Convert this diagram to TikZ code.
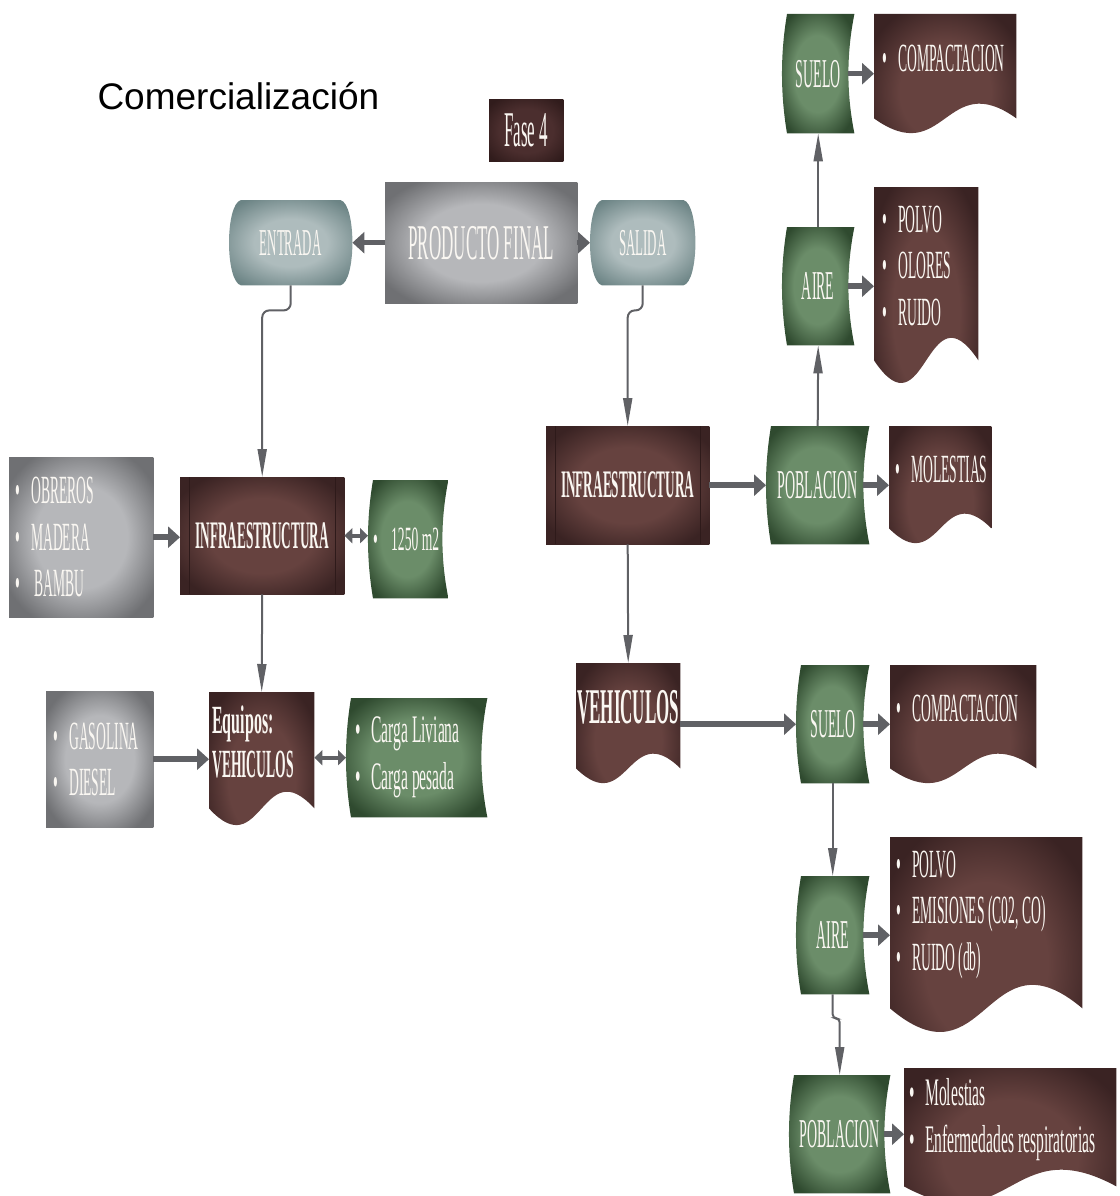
\documentclass[tikz,border=0pt]{standalone}
\usepackage{fontspec}
\setmainfont{Liberation Serif}
\newfontfamily\cond[FakeStretch=0.34]{Liberation Serif}
\newfontfamily\condm[FakeStretch=0.40]{Liberation Serif}
\newfontfamily\titlefont{Liberation Sans}
\usetikzlibrary{arrows.meta,calc}

\definecolor{brownin}{HTML}{66423F}
\definecolor{brownout}{HTML}{3A2323}
\definecolor{brownline}{HTML}{2E1A1A}
\definecolor{greenin}{HTML}{6B8D69}
\definecolor{greenout}{HTML}{2F4A2F}
\definecolor{grayin}{HTML}{B6B7BA}
\definecolor{grayout}{HTML}{6F7073}
\definecolor{tealin}{HTML}{AEBCBD}
\definecolor{tealout}{HTML}{6C8485}
\definecolor{fasein}{HTML}{4B2E2E}
\definecolor{faseout}{HTML}{311C1C}
\definecolor{arrowgray}{HTML}{606165}
\definecolor{txtwhite}{HTML}{FAF7F2}

\pgfdeclareradialshading{brownglow}{\pgfpoint{0bp}{0bp}}{color(0bp)=(brownin); color(16bp)=(brownin); color(30bp)=(brownout); color(50bp)=(brownout)}
\pgfdeclareradialshading{greenglow}{\pgfpoint{0bp}{0bp}}{color(0bp)=(greenin); color(16bp)=(greenin); color(30bp)=(greenout); color(50bp)=(greenout)}
\pgfdeclareradialshading{grayglow}{\pgfpoint{0bp}{0bp}}{color(0bp)=(grayin); color(16bp)=(grayin); color(30bp)=(grayout); color(50bp)=(grayout)}
\pgfdeclareradialshading{tealglow}{\pgfpoint{0bp}{0bp}}{color(0bp)=(tealin); color(14bp)=(tealin); color(30bp)=(tealout); color(50bp)=(tealout)}
\pgfdeclareradialshading{faseglow}{\pgfpoint{0bp}{0bp}}{color(0bp)=(fasein); color(18bp)=(fasein); color(32bp)=(faseout); color(50bp)=(faseout)}

\pgfdeclarelayer{bg}
\pgfsetlayers{bg,main}

% shapes drawn behind the nodes, from their anchors
\newcommand{\boxshape}[2]{\shade[shading=#2] (#1.north west) rectangle (#1.south east);}
\newcommand{\subshape}[2]{\boxshape{#1}{#2}
  \draw[line width=1pt, brownline] ([xshift=9pt]#1.north west) -- ([xshift=9pt]#1.south west)
    ([xshift=-9pt]#1.north east) -- ([xshift=-9pt]#1.south east);}
\newcommand{\docshape}[3]{\shade[shading=#3] (#1.north west) -- (#1.north east) -- ($(#1.south east)+(0,16)$)
  .. controls ($(#1.south)+(0,16-3.4*#2)$) and ($(#1.south)+(0,16+3.4*#2)$) .. ($(#1.south west)+(0,16)$) -- cycle;}
\newcommand{\storeshape}[2]{\shade[shading=#2] ($(#1.north west)+(5,0)$) -- (#1.north east)
  .. controls ($(#1.north east)+(-8,40)$) and ($(#1.south east)+(-8,-40)$) .. (#1.south east)
  -- ($(#1.south west)+(5,0)$)
  .. controls ($(#1.south west)+(-1.7,-40)$) and ($(#1.north west)+(-1.7,40)$) .. ($(#1.north west)+(5,0)$) -- cycle;}
\newcommand{\termshape}[2]{\shade[shading=#2] ($(#1.north west)+(12,0)$) -- ($(#1.north east)+(-12,0)$)
  .. controls ($(#1.north east)+(4,4)$) and ($(#1.south east)+(4,-4)$) .. ($(#1.south east)+(-12,0)$)
  -- ($(#1.south west)+(12,0)$)
  .. controls ($(#1.south west)+(-4,-4)$) and ($(#1.north west)+(-4,4)$) .. ($(#1.north west)+(12,0)$) -- cycle;}
\newcommand{\itm}{\makebox[16pt][l]{\textbullet}}

\begin{document}
\begin{tikzpicture}[x=1pt, y=-1pt,
    shp/.style={anchor=north west, inner sep=0pt, text=txtwhite},
    big/.style={font=\cond\fontsize{50}{56}\selectfont},
    mid/.style={font=\cond\fontsize{41}{46}\selectfont},
    hd/.style={font=\cond\bfseries\fontsize{39}{44}\selectfont},
    lst/.style={font=\cond\fontsize{40}{46.5}\selectfont, align=flush left},
    lstm/.style={font=\condm\fontsize{39}{47}\selectfont, align=flush left},
    fat/.style={draw=arrowgray, line width=5.5pt, -{Triangle[length=12pt,width=21pt]}},
    fatdbl/.style={draw=arrowgray, line width=4pt, {Triangle[length=8pt,width=15pt]}-{Triangle[length=8pt,width=15pt]}},
    conn/.style={draw=arrowgray, line width=2pt, -{Triangle[length=28pt,width=9pt]}}]

    \useasboundingbox (0,0) rectangle (1119,1196);

    \node[anchor=base west, font=\titlefont\fontsize{37}{40}\selectfont] (titulo) at (94,110) {Comercialización};

    % top
    \node[shp, big, minimum width=74pt, minimum height=61pt] (fase) at (489,100) {Fase 4};
    \node[shp, big, minimum width=192pt, minimum height=121pt] (prod) at (385,182) {PRODUCTO FINAL};
    \node[shp, font=\cond\fontsize{38}{44}\selectfont, minimum width=123pt, minimum height=85pt] (entrada) at (229,200) {ENTRADA};
    \node[shp, font=\cond\fontsize{38}{44}\selectfont, minimum width=105pt, minimum height=85pt] (salida) at (590,200) {SALIDA};

    % entrada side
    \node[shp, hd, minimum width=164pt, minimum height=117pt] (infra1) at (180,477) {INFRAESTRUCTURA};
    \node[shp, lst, inner xsep=6pt, text width=132pt, minimum height=160pt] (obreros) at (9,457) {\itm OBREROS\\ \itm MADERA\\ \itm\kern3pt BAMBU};
    \node[shp, lstm, font=\condm\fontsize{34}{40}\selectfont, inner xsep=5pt, text width=70pt, minimum height=118pt] (m1250) at (368,480) {\itm\kern2pt 1250 m2};
    \node[shp, lst, inner xsep=7pt, text width=93pt, minimum height=136pt] (gasolina) at (46,691) {\itm GASOLINA\\ \itm DIESEL};
    \node[shp, font=\cond\bfseries\fontsize{40}{44}\selectfont, align=flush left, inner xsep=3pt, text width=99pt, minimum height=100pt] (equipos) at (209,692) {{\condm Equipos:}\\ VEHICULOS};
    \node[shp, lstm, inner xsep=9pt, text width=123pt, minimum height=119pt] (carga) at (346,698) {\itm Carga Liviana\\ \itm Carga pesada};

    % salida side
    \node[shp, hd, minimum width=163pt, minimum height=118pt] (infra2) at (546,426) {INFRAESTRUCTURA};
    \node[shp, mid, minimum width=103pt, minimum height=118pt] (pob2) at (766,426) {POBLACION};
    \node[shp, lst, inner xsep=6pt, text width=90pt, minimum height=86pt] (mol1) at (889,426) {\itm MOLESTIAS};
    \node[shp, mid, minimum width=72pt, minimum height=118pt] (aire1) at (782,227) {AIRE};
    \node[shp, lst, inner xsep=8pt, text width=88pt, minimum height=157pt] (polvo1) at (874,187) {\itm POLVO\\ \itm OLORES\\ \itm RUIDO};
    \node[shp, mid, minimum width=72pt, minimum height=119pt] (suelo1) at (782,14) {SUELO};
    \node[shp, lst, inner xsep=8pt, text width=126pt, minimum height=88pt] (comp1) at (874,14) {\itm COMPACTACION};

    \node[shp, font=\cond\bfseries\fontsize{50}{56}\selectfont, minimum width=104pt, minimum height=89pt] (veh) at (576,663) {VEHICULOS};
    \node[shp, mid, minimum width=73pt, minimum height=118pt] (suelo2) at (796,665) {SUELO};
    \node[shp, lst, inner xsep=6pt, text width=134pt, minimum height=87pt] (comp2) at (890,665) {\itm COMPACTACION};
    \node[shp, mid, minimum width=73pt, minimum height=118pt] (aire2) at (796,876) {AIRE};
    \node[shp, lst, inner xsep=6pt, text width=180pt, minimum height=155pt] (polvo2) at (890,837) {\itm POLVO\\ \itm EMISIONES (C02, CO)\\ \itm RUIDO (db)};
    \node[shp, mid, minimum width=101pt, minimum height=118pt] (pob3) at (789,1075) {POBLACION};
    \node[shp, lstm, inner xsep=5pt, text width=202pt, minimum height=102pt] (mol2) at (904,1068) {\itm Molestias\\ \itm Enfermedades respiratorias};

    \begin{pgfonlayer}{bg}
        \boxshape{fase}{faseglow}
        \boxshape{prod}{grayglow}
        \termshape{entrada}{tealglow}
        \termshape{salida}{tealglow}
        \subshape{infra1}{brownglow}
        \subshape{infra2}{brownglow}
        \boxshape{obreros}{grayglow}
        \boxshape{gasolina}{grayglow}
        \storeshape{m1250}{greenglow}
        \storeshape{carga}{greenglow}
        \storeshape{pob2}{greenglow}
        \storeshape{aire1}{greenglow}
        \storeshape{suelo1}{greenglow}
        \storeshape{suelo2}{greenglow}
        \storeshape{aire2}{greenglow}
        \storeshape{pob3}{greenglow}
        \docshape{equipos}{17}{brownglow}
        \docshape{comp1}{15}{brownglow}
        \docshape{polvo1}{23}{brownglow}
        \docshape{mol1}{15}{brownglow}
        \docshape{veh}{15}{brownglow}
        \docshape{comp2}{15}{brownglow}
        \docshape{polvo2}{24}{brownglow}
        \docshape{mol2}{17}{brownglow}
    \end{pgfonlayer}

    % connectors
    \draw[fat] (prod.west) -- (entrada.east);
    \draw[fat] (prod.east) -- (salida.west);
    \draw[conn, rounded corners=7pt] (entrada.south) -- ++(0,25) -| (infra1.north);
    \draw[conn, rounded corners=7pt] (salida.south) -- ++(0,25) -| (infra2.north);

    \draw[fat] (obreros.east) -- (obreros.east -| infra1.west);
    \draw[fatdbl] (infra1.east) -- (infra1.east -| m1250.west);
    \draw[conn] (infra1.south) -- (equipos.north);
    \draw[fat] (gasolina.east) -- (gasolina.east -| equipos.west);
    \draw[fatdbl] (carga.west -| equipos.east) -- (carga.west);

    \draw[fat] (infra2.east) -- (pob2.west);
    \draw[fat, shorten <=-6pt] (pob2.east) -- (pob2.east -| mol1.west);
    \draw[conn] (pob2.north) -- (aire1.south);
    \draw[fat, shorten <=-6pt] (aire1.east) -- (aire1.east -| polvo1.west);
    \draw[conn] (aire1.north) -- (suelo1.south);
    \draw[fat, shorten <=-6pt] (suelo1.east) -- (suelo1.east -| comp1.west);

    \draw[conn] (infra2.south) -- (veh.north);
    \draw[fat] (suelo2.west -| veh.east) -- (suelo2.west);
    \draw[fat, shorten <=-6pt] (suelo2.east) -- (suelo2.east -| comp2.west);
    \draw[conn] (suelo2.south) -- (aire2.north);
    \draw[fat, shorten <=-6pt] (aire2.east) -- (aire2.east -| polvo2.west);
    \draw[conn, rounded corners=4pt] (aire2.south) -- ++(0,24) -| (pob3.north);
    \draw[fat, shorten <=-6pt] (pob3.east) -- (pob3.east -| mol2.west);
\end{tikzpicture}
\end{document}
